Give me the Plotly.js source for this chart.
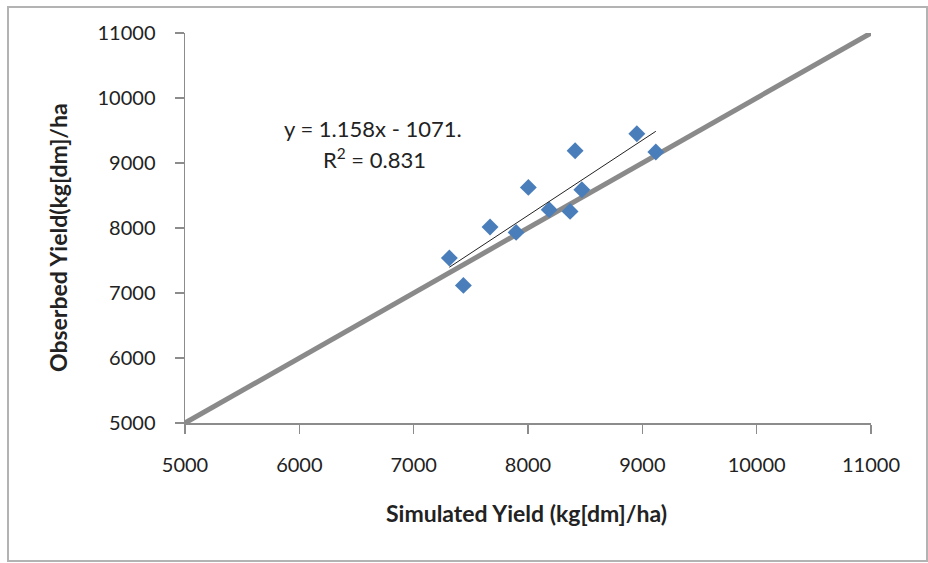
<!DOCTYPE html>
<html>
<head>
<meta charset="utf-8">
<script src="https://cdn.plot.ly/plotly-3.0.1.min.js"></script>
<style>html,body{margin:0;padding:0;background:#fff;}#chart{width:928px;height:563px;}</style>
</head>
<body>
<div id="chart"></div>
<script>
// Data
const simulated = [7312, 7435, 7668, 7896, 8003, 8185, 8368, 8412, 8471, 8952, 9118];
const observed  = [7538, 7117, 8015, 7932, 8625, 8282, 8255, 9189, 8589, 9451, 9169];
const oneToOne = [5000, 11000];
const trendSlope = 1.158;
const trendIntercept = -1071;
const xTicks = [5000, 6000, 7000, 8000, 9000, 10000, 11000];
const yTicks = [5000, 6000, 7000, 8000, 9000, 10000, 11000];
const xTitle = 'Simulated Yield (kg[dm]/ha)';
const yTitle = 'Obserbed Yield(kg[dm]/ha';

const xmin = Math.min(...simulated), xmax = Math.max(...simulated);
const trendX = [xmin, xmax];
const trendY = trendX.map(v => trendSlope * v + trendIntercept);

const font = "Lato, 'Liberation Sans', sans-serif";
const L = 185, T = 33, W = 686, H = 390;
const px = v => (v - L) / W;
const py = v => (T + H - v) / H;

const traces = [
  {x: oneToOne, y: oneToOne, mode: 'lines', line: {color: '#8a8a8a', width: 5}, hoverinfo: 'skip', showlegend: false},
  {x: simulated, y: observed, mode: 'markers', type: 'scatter',
   marker: {symbol: 'diamond', size: 13, color: '#4a7ebb'}, showlegend: false},
  {x: trendX, y: trendY, mode: 'lines', line: {color: '#222', width: 1}, hoverinfo: 'skip', showlegend: false}
];

const axisCommon = {
  showgrid: false, zeroline: false, showline: true, linecolor: '#8c8c8c', linewidth: 1.5,
  ticks: 'outside', ticklen: 9, tickcolor: '#8c8c8c', tickwidth: 1.5,
  tickfont: {family: font, size: 20, color: '#222'}, tickmode: 'array'
};

const layout = {
  width: 928, height: 563,
  margin: {l: L, r: 928 - L - W, t: T, b: 563 - T - H},
  paper_bgcolor: '#fff', plot_bgcolor: '#fff',
  xaxis: Object.assign({}, axisCommon, {
    range: [5000, 11000], tickvals: xTicks, ticktext: xTicks.map(String),
    ticklabelstandoff: 14
  }),
  yaxis: Object.assign({}, axisCommon, {
    range: [5000, 11000], tickvals: yTicks, ticktext: yTicks.map(String),
    ticklabelstandoff: 15
  }),
  annotations: [
    {xref: 'paper', yref: 'paper', x: px(373), y: py(128), text: 'y = 1.158x - 1071.', showarrow: false,
     font: {family: font, size: 22, color: '#222'}, xanchor: 'center', yanchor: 'middle'},
    {xref: 'paper', yref: 'paper', x: px(374), y: py(158), text: 'R<sup>2</sup> = 0.831', showarrow: false,
     font: {family: font, size: 22, color: '#222'}, xanchor: 'center', yanchor: 'middle'},
    {xref: 'paper', yref: 'paper', x: px(526), y: py(513), text: xTitle, showarrow: false,
     font: {family: font, size: 23, color: '#222', weight: 'bold'}, xanchor: 'center', yanchor: 'middle'},
    {xref: 'paper', yref: 'paper', x: px(58), y: py(238), text: yTitle, showarrow: false, textangle: -90,
     font: {family: font, size: 23, color: '#222', weight: 'bold'}, xanchor: 'center', yanchor: 'middle'}
  ],
  shapes: [
    {type: 'rect', xref: 'paper', yref: 'paper', x0: px(8), x1: px(927),
     y0: py(561), y1: py(7), line: {color: '#b3b3b3', width: 2}, layer: 'below'}
  ]
};

Plotly.newPlot('chart', traces, layout, {displayModeBar: false, staticPlot: true});
</script>
</body>
</html>
